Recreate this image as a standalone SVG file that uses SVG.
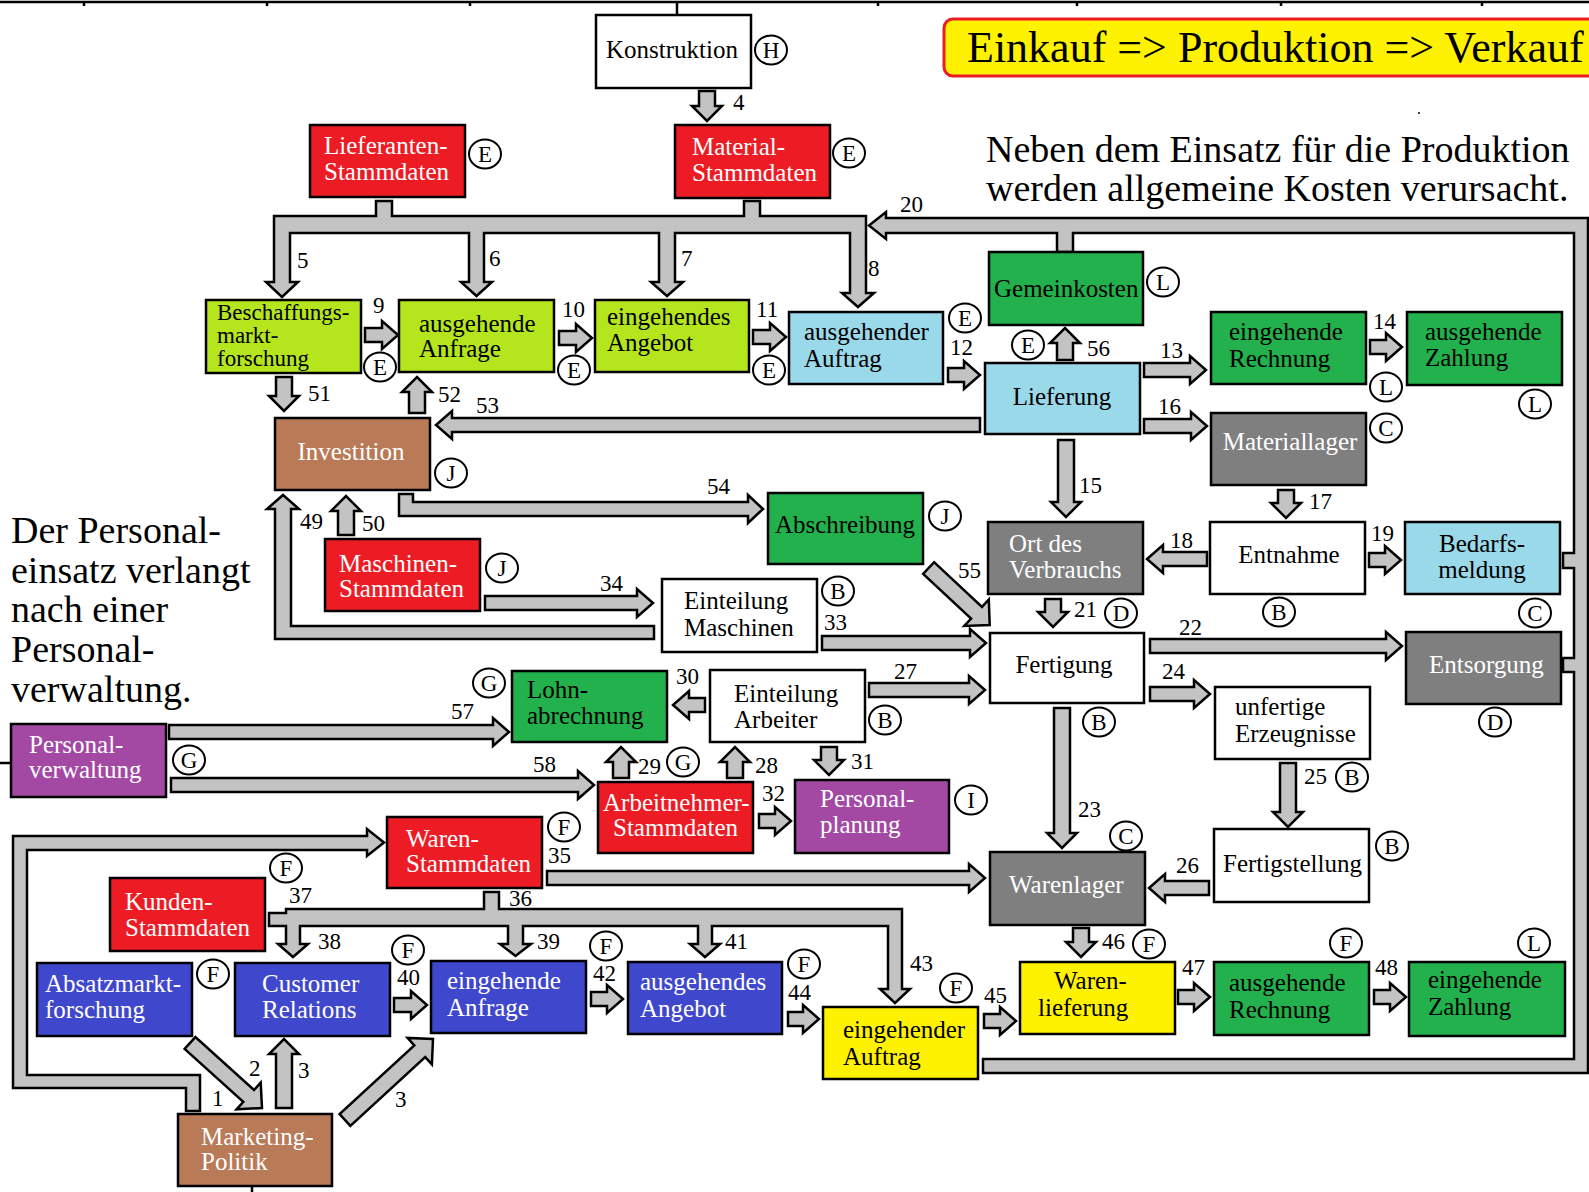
<svg xmlns="http://www.w3.org/2000/svg" width="1589" height="1192" viewBox="0 0 1589 1192">
<style>
.bx{stroke:#000;stroke-width:2.5}
.red{fill:#ED1C24}.lg{fill:#B5E61D}.lb{fill:#99D9EA}.gr{fill:#22B14C}.gy{fill:#7F7F7F}.br{fill:#B97A57}.pu{fill:#A349A4}.bl{fill:#3F48CC}.ye{fill:#FFF200}.wh{fill:#FFFFFF}
.t{font-family:"Liberation Serif","Times New Roman",serif;font-size:25px}
.tw{fill:#FFFFFF}.tk{fill:#000000}
.mid{text-anchor:middle}
.arr{fill:#C3C3C3;stroke:#000;stroke-width:2.5;stroke-linejoin:miter}
.num{font-family:"Liberation Serif","Times New Roman",serif;font-size:23px;fill:#000}
.ce{fill:#FFFFFF;stroke:#000;stroke-width:2}
.cl{font-family:"Liberation Serif","Times New Roman",serif;font-size:23px;fill:#000;text-anchor:middle}
.big{font-family:"Liberation Serif","Times New Roman",serif;font-size:38px;fill:#000}
.line{stroke:#000;stroke-width:2.5;fill:none}
</style>

<g id="frame">
<path class="line" d="M0,2 H1589"/>
<path class="line" stroke-width="1.5" d="M84,2 V6 M267,2 V6 M470,2 V6 M878,2 V6 M1077,2 V6 M1281,2 V6 M1482,2 V6"/>
<path class="line" d="M677,2 V15"/>
<path class="line" d="M252,1186 V1192"/>
<path class="line" d="M0,763 H11"/>
<circle cx="1419" cy="113" r="1" fill="#000"/>
</g>

<g id="title">
<rect x="944" y="19" width="680" height="57" rx="9" fill="#FFF200" stroke="#ED1C24" stroke-width="3"/>
<text class="big" x="967" y="62" style="font-size:44px">Einkauf =&gt; Produktion =&gt; Verkauf</text>
</g>

<g id="notes">
<text class="big" x="986" y="162">Neben dem Einsatz für die Produktion</text>
<text class="big" x="986" y="201">werden allgemeine Kosten verursacht.</text>
<text class="big" x="11" y="543">Der Personal-</text>
<text class="big" x="11" y="583">einsatz verlangt</text>
<text class="big" x="11" y="622">nach einer</text>
<text class="big" x="11" y="662">Personal-</text>
<text class="big" x="11" y="702">verwaltung.</text>
</g>

<g id="connectors">
<path class="arr" d="M274,216 L376,216 L376,201 L392,201 L392,216 L744,216 L744,201 L760,201 L760,216 L866,216 L866,293 L874,293 L858,307 L842,293 L850,293 L850,233 L675,233 L675,282 L683,282 L667,296 L651,282 L659,282 L659,233 L484,233 L484,282 L492,282 L476.5,296 L461,282 L469,282 L469,233 L290,233 L290,282 L298,282 L282,297 L266,282 L274,282 Z"/>
<path class="arr" d="M869,225.5 L886,212 L886,218 L1588,218 L1588,1073 L983,1073 L983,1059 L1574,1059 L1574,672 L1563,672 L1563,658 L1574,658 L1574,568 L1563,568 L1563,553 L1574,553 L1574,233 L1073,233 L1073,252 L1057,252 L1057,233 L886,233 L886,239 Z"/>
<path class="arr" d="M269,913 L286,913 L286,909 L484,909 L484,892 L499,892 L499,909 L902,909 L902,989 L910,989 L895,1003 L880,989 L888,989 L888,926 L712,926 L712,944 L720,944 L705,957 L690,944 L698,944 L698,926 L523,926 L523,944 L531,944 L515.5,956 L500,944 L508,944 L508,926 L300,926 L300,944 L308,944 L293,957 L278,944 L286,944 L286,926 L269,926 Z"/>
<path class="arr" d="M186,1111 L186,1088 L13,1088 L13,836 L367,836 L367,829 L384,842.5 L367,856 L367,850 L27,850 L27,1075 L200,1075 L200,1111 Z"/>
<path class="arr" d="M654,626 L291,626 L291,509 L299,509 L283,495 L267,509 L275,509 L275,639 L654,639 Z"/>
<path class="arr" d="M399,494 L413,494 L413,502 L748,502 L748,495 L763,509 L748,523 L748,516 L399,516 Z"/>
<path class="arr" d="M980,418 L980,432 L452,432 L452,439 L436,425 L452,411 L452,418 Z"/>
<polygon class="arr" points="184.6,1048.9 243.3,1101.9 236.6,1109.3 262,1108 260.7,1082.6 254,1090 195.4,1037.1"/>
<polygon class="arr" points="350.4,1125.9 425.2,1057.1 431.9,1064.4 433,1039 407.6,1037.9 414.3,1045.3 339.6,1114.1"/>
<polygon class="arr" points="923.1,573.9 971.1,618.6 964.3,625.9 989.7,625 988.8,599.5 982,606.9 934.1,562.2"/>
<polygon class="arr" points="699,91 715,91 715,106 722,106 707,121 692,106 699,106"/>
<polygon class="arr" points="365,328 382,328 382,321 398,335 382,349 382,342 365,342"/>
<polygon class="arr" points="559,331 576,331 576,324 592,338 576,352 576,345 559,345"/>
<polygon class="arr" points="753,330 770,330 770,323 786,337 770,351 770,344 753,344"/>
<polygon class="arr" points="948,368 964,368 964,361 980,375 964,389 964,382 948,382"/>
<polygon class="arr" points="1144,363 1190,363 1190,356 1206,370 1190,384 1190,377 1144,377"/>
<polygon class="arr" points="1370,340 1386,340 1386,333 1402,347 1386,361 1386,354 1370,354"/>
<polygon class="arr" points="1144,419 1191,419 1191,412 1207,426 1191,440 1191,433 1144,433"/>
<polygon class="arr" points="1278,490 1294,490 1294,503 1301,503 1286,518 1271,503 1278,503"/>
<polygon class="arr" points="1207,552 1163,552 1163,545 1147,559 1163,573 1163,566 1207,566"/>
<polygon class="arr" points="1369,553 1385,553 1385,546 1401,560 1385,574 1385,567 1369,567"/>
<polygon class="arr" points="1058,440 1074,440 1074,502 1081,502 1066,517 1051,502 1058,502"/>
<polygon class="arr" points="1045,599 1061,599 1061,612 1068,612 1053,627 1038,612 1045,612"/>
<polygon class="arr" points="1150,639 1386,639 1386,632 1402,646 1386,660 1386,653 1150,653"/>
<polygon class="arr" points="1150,687 1194,687 1194,680 1210,694 1194,708 1194,701 1150,701"/>
<polygon class="arr" points="1280,763 1296,763 1296,812 1303,812 1288,827 1273,812 1280,812"/>
<polygon class="arr" points="1209,881 1165,881 1165,874 1149,888 1165,902 1165,895 1209,895"/>
<polygon class="arr" points="1054,708 1070,708 1070,833 1077,833 1062,848 1047,833 1054,833"/>
<polygon class="arr" points="869,683 969,683 969,676 985,690 969,704 969,697 869,697"/>
<polygon class="arr" points="822,636 970,636 970,629 986,643 970,657 970,650 822,650"/>
<polygon class="arr" points="485,596 637,596 637,589 653,603 637,617 637,610 485,610"/>
<polygon class="arr" points="705,698 689,698 689,691 673,705 689,719 689,712 705,712"/>
<polygon class="arr" points="821,747 837,747 837,760 844,760 829,775 814,760 821,760"/>
<polygon class="arr" points="727,778 743,778 743,762 750,762 735,747 720,762 727,762"/>
<polygon class="arr" points="613,778 629,778 629,762 636,762 621,747 606,762 613,762"/>
<polygon class="arr" points="759,814 775,814 775,807 791,821 775,835 775,828 759,828"/>
<polygon class="arr" points="547,871 969,871 969,864 985,878 969,892 969,885 547,885"/>
<polygon class="arr" points="169,725 493,725 493,718 509,732 493,746 493,739 169,739"/>
<polygon class="arr" points="171,778 578,778 578,771 594,785 578,799 578,792 171,792"/>
<polygon class="arr" points="338,535 354,535 354,511 361,511 346,496 331,511 338,511"/>
<polygon class="arr" points="276,377 292,377 292,396 299,396 284,411 269,396 276,396"/>
<polygon class="arr" points="409,413 425,413 425,392 432,392 417,377 402,392 409,392"/>
<polygon class="arr" points="1057,360 1073,360 1073,343 1080,343 1065,328 1050,343 1057,343"/>
<polygon class="arr" points="394,998 411,998 411,991 427,1005 411,1019 411,1012 394,1012"/>
<polygon class="arr" points="591,992 607,992 607,985 623,999 607,1013 607,1006 591,1006"/>
<polygon class="arr" points="788,1012 803,1012 803,1005 819,1019 803,1033 803,1026 788,1026"/>
<polygon class="arr" points="984,1014 1000,1014 1000,1007 1016,1021 1000,1035 1000,1028 984,1028"/>
<polygon class="arr" points="1073,928 1089,928 1089,942 1096,942 1081,957 1066,942 1073,942"/>
<polygon class="arr" points="1178,990 1194,990 1194,983 1210,997 1194,1011 1194,1004 1178,1004"/>
<polygon class="arr" points="1374,990 1390,990 1390,983 1406,997 1390,1011 1390,1004 1374,1004"/>
<polygon class="arr" points="276,1108 292,1108 292,1054 299,1054 284,1039 269,1054 276,1054"/>
<g id="connector-labels">
<text class="num" x="212" y="1106">1</text>
<text class="num" x="249" y="1076">2</text>
<text class="num" x="298" y="1078">3</text>
<text class="num" x="395" y="1107">3</text>
<text class="num" x="733" y="110">4</text>
<text class="num" x="297" y="268">5</text>
<text class="num" x="489" y="266">6</text>
<text class="num" x="681" y="266">7</text>
<text class="num" x="868" y="276">8</text>
<text class="num" x="373" y="313">9</text>
<text class="num" x="562" y="317">10</text>
<text class="num" x="756" y="317">11</text>
<text class="num" x="950" y="355">12</text>
<text class="num" x="1160" y="358">13</text>
<text class="num" x="1373" y="329">14</text>
<text class="num" x="1079" y="493">15</text>
<text class="num" x="1158" y="414">16</text>
<text class="num" x="1309" y="509">17</text>
<text class="num" x="1170" y="548">18</text>
<text class="num" x="1371" y="541">19</text>
<text class="num" x="900" y="212">20</text>
<text class="num" x="1074" y="617">21</text>
<text class="num" x="1179" y="635">22</text>
<text class="num" x="1078" y="817">23</text>
<text class="num" x="1162" y="679">24</text>
<text class="num" x="1304" y="784">25</text>
<text class="num" x="1176" y="873">26</text>
<text class="num" x="894" y="679">27</text>
<text class="num" x="755" y="773">28</text>
<text class="num" x="638" y="774">29</text>
<text class="num" x="676" y="684">30</text>
<text class="num" x="851" y="769">31</text>
<text class="num" x="762" y="801">32</text>
<text class="num" x="824" y="630">33</text>
<text class="num" x="600" y="591">34</text>
<text class="num" x="548" y="863">35</text>
<text class="num" x="509" y="906">36</text>
<text class="num" x="289" y="903">37</text>
<text class="num" x="318" y="949">38</text>
<text class="num" x="537" y="949">39</text>
<text class="num" x="397" y="985">40</text>
<text class="num" x="725" y="949">41</text>
<text class="num" x="593" y="981">42</text>
<text class="num" x="910" y="971">43</text>
<text class="num" x="788" y="1000">44</text>
<text class="num" x="984" y="1003">45</text>
<text class="num" x="1102" y="949">46</text>
<text class="num" x="1182" y="975">47</text>
<text class="num" x="1375" y="975">48</text>
<text class="num" x="300" y="529">49</text>
<text class="num" x="362" y="531">50</text>
<text class="num" x="308" y="401">51</text>
<text class="num" x="438" y="402">52</text>
<text class="num" x="476" y="413">53</text>
<text class="num" x="707" y="494">54</text>
<text class="num" x="958" y="578">55</text>
<text class="num" x="1087" y="356">56</text>
<text class="num" x="451" y="719">57</text>
<text class="num" x="533" y="772">58</text>
</g>
</g>

<g id="n-konstruktion"><rect class="bx wh" x="596" y="15" width="155" height="73"/><text class="t tk" x="606" y="58">Konstruktion</text><ellipse class="ce" cx="771" cy="50" rx="16" ry="14.5"/><text class="cl" x="771" y="58">H</text></g>
<g id="n-lieferanten"><rect class="bx red" x="310" y="125" width="155" height="72"/><text class="t tw"><tspan x="324" y="154">Lieferanten-</tspan><tspan x="324" y="180">Stammdaten</tspan></text><ellipse class="ce" cx="485" cy="154" rx="16" ry="14.5"/><text class="cl" x="485" y="162">E</text></g>
<g id="n-material"><rect class="bx red" x="675" y="125" width="155" height="73"/><text class="t tw"><tspan x="692" y="155">Material-</tspan><tspan x="692" y="181">Stammdaten</tspan></text><ellipse class="ce" cx="849" cy="153" rx="16" ry="14.5"/><text class="cl" x="849" y="161">E</text></g>
<g id="n-beschaffung"><rect class="bx lg" x="206" y="300" width="155" height="73"/><text class="t tk" style="font-size:23px"><tspan x="217" y="320">Beschaffungs-</tspan><tspan x="217" y="343">markt-</tspan><tspan x="217" y="366">forschung</tspan></text><ellipse class="ce" cx="380" cy="367" rx="16" ry="14.5"/><text class="cl" x="380" y="375">E</text></g>
<g id="n-ausgehende-anfrage"><rect class="bx lg" x="399" y="300" width="155" height="72"/><text class="t tk"><tspan x="419" y="332">ausgehende</tspan><tspan x="419" y="357">Anfrage</tspan></text><ellipse class="ce" cx="574" cy="370" rx="16" ry="14.5"/><text class="cl" x="574" y="378">E</text></g>
<g id="n-eingehendes-angebot"><rect class="bx lg" x="595" y="300" width="154" height="72"/><text class="t tk"><tspan x="607" y="325">eingehendes</tspan><tspan x="607" y="351">Angebot</tspan></text><ellipse class="ce" cx="769" cy="370" rx="16" ry="14.5"/><text class="cl" x="769" y="378">E</text></g>
<g id="n-ausgehender-auftrag"><rect class="bx lb" x="789" y="312" width="154" height="72"/><text class="t tk"><tspan x="804" y="340">ausgehender</tspan><tspan x="804" y="367">Auftrag</tspan></text><ellipse class="ce" cx="965" cy="318" rx="16" ry="14.5"/><text class="cl" x="965" y="326">E</text></g>
<g id="n-gemeinkosten"><rect class="bx gr" x="989" y="252" width="154" height="73"/><text class="t tk" x="994" y="297">Gemeinkosten</text><ellipse class="ce" cx="1163" cy="282" rx="16" ry="14.5"/><text class="cl" x="1163" y="290">L</text></g>
<g id="n-lieferung"><rect class="bx lb" x="985" y="363" width="155" height="71"/><text class="t tk mid" x="1062" y="405">Lieferung</text><ellipse class="ce" cx="1028" cy="345" rx="16" ry="14.5"/><text class="cl" x="1028" y="353">E</text></g>
<g id="n-eingehende-rechnung"><rect class="bx gr" x="1211" y="312" width="155" height="72"/><text class="t tk"><tspan x="1229" y="340">eingehende</tspan><tspan x="1229" y="367">Rechnung</tspan></text><ellipse class="ce" cx="1386" cy="387" rx="16" ry="14.5"/><text class="cl" x="1386" y="395">L</text></g>
<g id="n-ausgehende-zahlung"><rect class="bx gr" x="1407" y="312" width="155" height="73"/><text class="t tk"><tspan x="1425" y="340">ausgehende</tspan><tspan x="1425" y="366">Zahlung</tspan></text><ellipse class="ce" cx="1535" cy="404" rx="16" ry="14.5"/><text class="cl" x="1535" y="412">L</text></g>
<g id="n-investition"><rect class="bx br" x="275" y="418" width="155" height="72"/><text class="t tw mid" x="351" y="460">Investition</text><ellipse class="ce" cx="451" cy="473" rx="16" ry="14.5"/><text class="cl" x="451" y="481">J</text></g>
<g id="n-materiallager"><rect class="bx gy" x="1211" y="413" width="155" height="72"/><text class="t tw mid" x="1290" y="450">Materiallager</text><ellipse class="ce" cx="1386" cy="428" rx="16" ry="14.5"/><text class="cl" x="1386" y="436">C</text></g>
<g id="n-abschreibung"><rect class="bx gr" x="768" y="493" width="155" height="71"/><text class="t tk mid" x="845" y="533">Abschreibung</text><ellipse class="ce" cx="945" cy="516" rx="16" ry="14.5"/><text class="cl" x="945" y="524">J</text></g>
<g id="n-ort-des-verbrauchs"><rect class="bx gy" x="988" y="522" width="155" height="72"/><text class="t tw"><tspan x="1009" y="552">Ort des</tspan><tspan x="1009" y="578">Verbrauchs</tspan></text><ellipse class="ce" cx="1121" cy="613" rx="16" ry="14.5"/><text class="cl" x="1121" y="621">D</text></g>
<g id="n-entnahme"><rect class="bx wh" x="1210" y="522" width="155" height="72"/><text class="t tk mid" x="1289" y="563">Entnahme</text><ellipse class="ce" cx="1279" cy="612" rx="16" ry="14.5"/><text class="cl" x="1279" y="620">B</text></g>
<g id="n-bedarfsmeldung"><rect class="bx lb" x="1405" y="522" width="155" height="72"/><text class="t tk mid"><tspan x="1482" y="552">Bedarfs-</tspan><tspan x="1482" y="578">meldung</tspan></text><ellipse class="ce" cx="1535" cy="613" rx="16" ry="14.5"/><text class="cl" x="1535" y="621">C</text></g>
<g id="n-maschinen-stammdaten"><rect class="bx red" x="325" y="539" width="155" height="72"/><text class="t tw"><tspan x="339" y="572">Maschinen-</tspan><tspan x="339" y="597">Stammdaten</tspan></text><ellipse class="ce" cx="502" cy="568" rx="16" ry="14.5"/><text class="cl" x="502" y="576">J</text></g>
<g id="n-einteilung-maschinen"><rect class="bx wh" x="662" y="579" width="155" height="73"/><text class="t tk"><tspan x="684" y="609">Einteilung</tspan><tspan x="684" y="636">Maschinen</tspan></text><ellipse class="ce" cx="838" cy="591" rx="16" ry="14.5"/><text class="cl" x="838" y="599">B</text></g>
<g id="n-fertigung"><rect class="bx wh" x="990" y="633" width="154" height="70"/><text class="t tk mid" x="1064" y="673">Fertigung</text><ellipse class="ce" cx="1099" cy="722" rx="16" ry="14.5"/><text class="cl" x="1099" y="730">B</text></g>
<g id="n-entsorgung"><rect class="bx gy" x="1406" y="632" width="155" height="72"/><text class="t tw" x="1429" y="673">Entsorgung</text><ellipse class="ce" cx="1495" cy="722" rx="16" ry="14.5"/><text class="cl" x="1495" y="730">D</text></g>
<g id="n-lohnabrechnung"><rect class="bx gr" x="512" y="671" width="155" height="71"/><text class="t tk"><tspan x="527" y="698">Lohn-</tspan><tspan x="527" y="724">abrechnung</tspan></text><ellipse class="ce" cx="489" cy="683" rx="16" ry="14.5"/><text class="cl" x="489" y="691">G</text></g>
<g id="n-einteilung-arbeiter"><rect class="bx wh" x="710" y="670" width="155" height="72"/><text class="t tk"><tspan x="734" y="702">Einteilung</tspan><tspan x="734" y="728">Arbeiter</tspan></text><ellipse class="ce" cx="885" cy="720" rx="16" ry="14.5"/><text class="cl" x="885" y="728">B</text></g>
<g id="n-unfertige-erzeugnisse"><rect class="bx wh" x="1215" y="687" width="155" height="72"/><text class="t tk"><tspan x="1235" y="715">unfertige</tspan><tspan x="1235" y="742">Erzeugnisse</tspan></text><ellipse class="ce" cx="1352" cy="777" rx="16" ry="14.5"/><text class="cl" x="1352" y="785">B</text></g>
<g id="n-personalverwaltung"><rect class="bx pu" x="11" y="724" width="155" height="73"/><text class="t tw"><tspan x="29" y="753">Personal-</tspan><tspan x="29" y="778">verwaltung</tspan></text><ellipse class="ce" cx="189" cy="760" rx="16" ry="14.5"/><text class="cl" x="189" y="768">G</text></g>
<g id="n-arbeitnehmer-stammdaten"><rect class="bx red" x="598" y="782" width="155" height="71"/><text class="t tw"><tspan x="603" y="811">Arbeitnehmer-</tspan><tspan x="613" y="836">Stammdaten</tspan></text><ellipse class="ce" cx="683" cy="762" rx="16" ry="14.5"/><text class="cl" x="683" y="770">G</text></g>
<g id="n-personalplanung"><rect class="bx pu" x="795" y="780" width="154" height="73"/><text class="t tw"><tspan x="820" y="807">Personal-</tspan><tspan x="820" y="833">planung</tspan></text><ellipse class="ce" cx="971" cy="800" rx="16" ry="14.5"/><text class="cl" x="971" y="808">I</text></g>
<g id="n-waren-stammdaten"><rect class="bx red" x="387" y="817" width="155" height="71"/><text class="t tw"><tspan x="406" y="847">Waren-</tspan><tspan x="406" y="872">Stammdaten</tspan></text><ellipse class="ce" cx="564" cy="827" rx="16" ry="14.5"/><text class="cl" x="564" y="835">F</text></g>
<g id="n-warenlager"><rect class="bx gy" x="990" y="852" width="155" height="73"/><text class="t tw" x="1009" y="893">Warenlager</text><ellipse class="ce" cx="1126" cy="836" rx="16" ry="14.5"/><text class="cl" x="1126" y="844">C</text></g>
<g id="n-fertigstellung"><rect class="bx wh" x="1214" y="829" width="155" height="73"/><text class="t tk" x="1223" y="872">Fertigstellung</text><ellipse class="ce" cx="1392" cy="846" rx="16" ry="14.5"/><text class="cl" x="1392" y="854">B</text></g>
<g id="n-kunden-stammdaten"><rect class="bx red" x="110" y="878" width="155" height="73"/><text class="t tw"><tspan x="125" y="910">Kunden-</tspan><tspan x="125" y="936">Stammdaten</tspan></text><ellipse class="ce" cx="286" cy="868" rx="16" ry="14.5"/><text class="cl" x="286" y="876">F</text></g>
<g id="n-absatzmarktforschung"><rect class="bx bl" x="37" y="963" width="155" height="73"/><text class="t tw"><tspan x="45" y="992">Absatzmarkt-</tspan><tspan x="45" y="1018">forschung</tspan></text><ellipse class="ce" cx="213" cy="974" rx="16" ry="14.5"/><text class="cl" x="213" y="982">F</text></g>
<g id="n-customer-relations"><rect class="bx bl" x="235" y="963" width="155" height="73"/><text class="t tw"><tspan x="262" y="992">Customer</tspan><tspan x="262" y="1018">Relations</tspan></text><ellipse class="ce" cx="408" cy="950" rx="16" ry="14.5"/><text class="cl" x="408" y="958">F</text></g>
<g id="n-eingehende-anfrage"><rect class="bx bl" x="431" y="961" width="155" height="72"/><text class="t tw"><tspan x="447" y="989">eingehende</tspan><tspan x="447" y="1016">Anfrage</tspan></text><ellipse class="ce" cx="606" cy="946" rx="16" ry="14.5"/><text class="cl" x="606" y="954">F</text></g>
<g id="n-ausgehendes-angebot"><rect class="bx bl" x="628" y="962" width="154" height="72"/><text class="t tw"><tspan x="640" y="990">ausgehendes</tspan><tspan x="640" y="1017">Angebot</tspan></text><ellipse class="ce" cx="804" cy="964" rx="16" ry="14.5"/><text class="cl" x="804" y="972">F</text></g>
<g id="n-eingehender-auftrag"><rect class="bx ye" x="823" y="1007" width="155" height="72"/><text class="t tk"><tspan x="843" y="1038">eingehender</tspan><tspan x="843" y="1065">Auftrag</tspan></text><ellipse class="ce" cx="956" cy="988" rx="16" ry="14.5"/><text class="cl" x="956" y="996">F</text></g>
<g id="n-warenlieferung"><rect class="bx ye" x="1020" y="962" width="155" height="72"/><text class="t tk"><tspan x="1054" y="989">Waren-</tspan><tspan x="1038" y="1016">lieferung</tspan></text><ellipse class="ce" cx="1149" cy="944" rx="16" ry="14.5"/><text class="cl" x="1149" y="952">F</text></g>
<g id="n-ausgehende-rechnung"><rect class="bx gr" x="1214" y="962" width="155" height="73"/><text class="t tk"><tspan x="1229" y="991">ausgehende</tspan><tspan x="1229" y="1018">Rechnung</tspan></text><ellipse class="ce" cx="1346" cy="943" rx="16" ry="14.5"/><text class="cl" x="1346" y="951">F</text></g>
<g id="n-eingehende-zahlung"><rect class="bx gr" x="1409" y="962" width="156" height="74"/><text class="t tk"><tspan x="1428" y="988">eingehende</tspan><tspan x="1428" y="1015">Zahlung</tspan></text><ellipse class="ce" cx="1534" cy="943" rx="16" ry="14.5"/><text class="cl" x="1534" y="951">L</text></g>
<g id="n-marketing-politik"><rect class="bx br" x="178" y="1114" width="154" height="72"/><text class="t tw"><tspan x="201" y="1145">Marketing-</tspan><tspan x="201" y="1170">Politik</tspan></text></g>
</svg>
